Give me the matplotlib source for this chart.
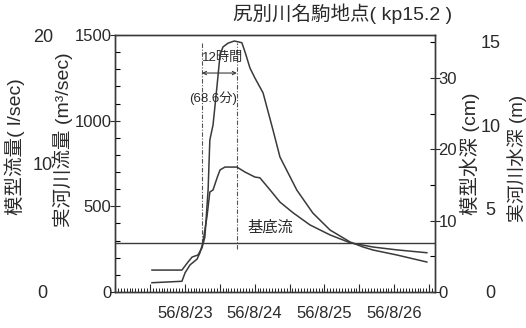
import matplotlib

matplotlib.use("Agg")
import matplotlib.pyplot as plt
from matplotlib.ticker import MultipleLocator


plt.rcParams["font.family"] = ["Liberation Sans", "Noto Sans CJK JP"]

OUT_PATH = "out.png"
LINE_COLOR = "#3a3a3a"
TEXT_COLOR = "#2a2a2a"

TITLE = "尻別川名駒地点( kp15.2 )"
DATE_LABELS = ["56/8/23", "56/8/24", "56/8/25", "56/8/26"]
DATE_HOURS = [24, 48, 72, 96]

# time axis is hours from the left edge of the plot
FLOW_HOURS = [12.7, 23.0, 25.1, 26.5, 28.5, 29.9, 30.9, 32.0, 32.6, 33.7, 35.1, 36.1, 37.1, 38.8,
              41.0, 43.6, 44.7, 46.4, 48.1, 50.9, 54.3, 56.7, 62.5, 68.0, 73.9, 80.8, 85.2, 88.7,
              96.9, 107.2]
FLOW_M3S = [128, 128, 175, 204, 216, 257, 321, 595, 887, 975, 1208, 1383, 1430, 1452,
            1465, 1455, 1401, 1307, 1249, 1162, 946, 788, 595, 461, 362, 292, 263, 245,
            216, 175]

DEPTH_HOURS = [12.7, 23.0, 24.1, 25.8, 28.2, 29.2, 30.2, 31.6, 32.6, 33.7, 35.1, 36.1, 37.8,
               41.9, 44.7, 48.1, 49.8, 53.3, 56.7, 61.2, 67.0, 73.9, 80.8, 88.7, 96.9, 107.2]
DEPTH_CM = [1.3, 1.5, 2.7, 3.8, 4.6, 5.5, 6.9, 10.5, 14.0, 14.3, 16.0, 17.1, 17.5,
            17.5, 16.8, 16.1, 16.0, 14.3, 12.6, 11.1, 9.4, 8.0, 6.9, 6.3, 5.9, 5.5]

BASE_FLOW = 285
LAG_HOURS = [29.9, 41.9]
LAG_BOTTOMS = [286, 251]
LAG_TOP = 1455

FLOW_TICKS = [0, 500, 1000, 1500]
DEPTH_TICKS = [0, 10, 20, 30]
MODEL_FLOW_TICKS = [0, 10, 20]
REAL_DEPTH_TICKS = [0, 5, 10, 15]


def style_inner_y(axis, side):
    axis.tick_params(axis="y", which="major", direction="inout", length=7, width=0.8,
                     pad=-1, labelsize=12, colors=TEXT_COLOR)
    axis.tick_params(axis="y", which="minor", direction="in", length=3.5, width=0.8)
    axis.yaxis.set_ticks_position(side)


def outer_axis(fig, rect, side, ylim, ticks, pad):
    ax = fig.add_axes(rect, frameon=False)
    ax.set_xticks([])
    ax.set_ylim(*ylim)
    ax.yaxis.set_ticks_position(side)
    ax.set_yticks(ticks)
    ax.set_yticklabels([str(t) for t in ticks])
    ax.tick_params(axis="y", length=0, pad=pad, labelsize=13, colors=TEXT_COLOR)
    plt.setp(ax.get_yticklabels(), ha="center")
    return ax


def draw():
    fig = plt.figure(figsize=(5.26, 3.28), dpi=100)
    rect = [115 / 526, 36 / 328, 320 / 526, 257 / 328]

    outer_axis(fig, rect, "left", (0, 20), MODEL_FLOW_TICKS, 52)
    outer_axis(fig, rect, "right", (0, 15.4), REAL_DEPTH_TICKS, 40)

    ax = fig.add_axes(rect)
    ax.patch.set_alpha(0)
    ax.plot(FLOW_HOURS, FLOW_M3S, color=LINE_COLOR, linewidth=1.1)
    ax.axhline(BASE_FLOW, color=LINE_COLOR, linewidth=1.0)
    ax.vlines(LAG_HOURS, LAG_BOTTOMS, LAG_TOP, colors="#555555", linewidth=0.8,
              linestyles=(0, (4, 1.5, 1, 1.5)))
    ax.annotate("", xy=(LAG_HOURS[0], 1278), xytext=(LAG_HOURS[1], 1278),
                arrowprops=dict(arrowstyle="<->", lw=0.8, color=LINE_COLOR,
                                shrinkA=0, shrinkB=0, mutation_scale=6))
    ax.text(37.1, 1366, "12時間", ha="center", va="center", fontsize=9.5, color=TEXT_COLOR)
    ax.text(33.7, 1132, "(68.6分)", ha="center", va="center", fontsize=9.5, color=TEXT_COLOR)
    ax.text(53.3, 374, "基底流", ha="center", va="center", fontsize=11, color=TEXT_COLOR)

    ax.set_xlim(0, 110)
    ax.set_ylim(0, 1500)
    ax.set_yticks(FLOW_TICKS)
    ax.yaxis.set_minor_locator(MultipleLocator(100))
    style_inner_y(ax, "left")

    major_hours = list(range(0, 110, 12))
    ax.set_xticks(major_hours)
    ax.set_xticklabels([DATE_LABELS[DATE_HOURS.index(h)] if h in DATE_HOURS else "" for h in major_hours])
    ax.xaxis.set_minor_locator(MultipleLocator(1))
    ax.tick_params(axis="x", which="major", direction="in", length=6, width=0.8,
                   pad=10, labelsize=12, colors=TEXT_COLOR)
    ax.tick_params(axis="x", which="minor", direction="in", length=3, width=0.6)

    axd = ax.twinx()
    axd.plot(DEPTH_HOURS, DEPTH_CM, color=LINE_COLOR, linewidth=1.1)
    axd.set_ylim(0, 36)
    axd.set_yticks(DEPTH_TICKS)
    axd.yaxis.set_minor_locator(MultipleLocator(5))
    style_inner_y(axd, "right")

    for a in (ax, axd):
        for spine in a.spines.values():
            spine.set_color(LINE_COLOR)
            spine.set_linewidth(1.0)

    fig.text(0.652, 0.957, TITLE, ha="center", va="center", fontsize=14, color=TEXT_COLOR)
    fig.text(0.0285, 0.552, "模型流量( l/sec)", rotation=90, ha="center", va="center",
             fontsize=14, color=TEXT_COLOR)
    fig.text(0.12, 0.573, "実河川流量 (m³/sec)", rotation=90, ha="center", va="center",
             fontsize=14, color=TEXT_COLOR)
    fig.text(0.8935, 0.530, "模型水深 (cm)", rotation=90, ha="center", va="center",
             fontsize=14, color=TEXT_COLOR)
    fig.text(0.983, 0.518, "実河川水深 (m)", rotation=90, ha="center", va="center",
             fontsize=13.5, color=TEXT_COLOR)

    fig.savefig(OUT_PATH, dpi=100)
    plt.close(fig)


if __name__ == "__main__":
    draw()
